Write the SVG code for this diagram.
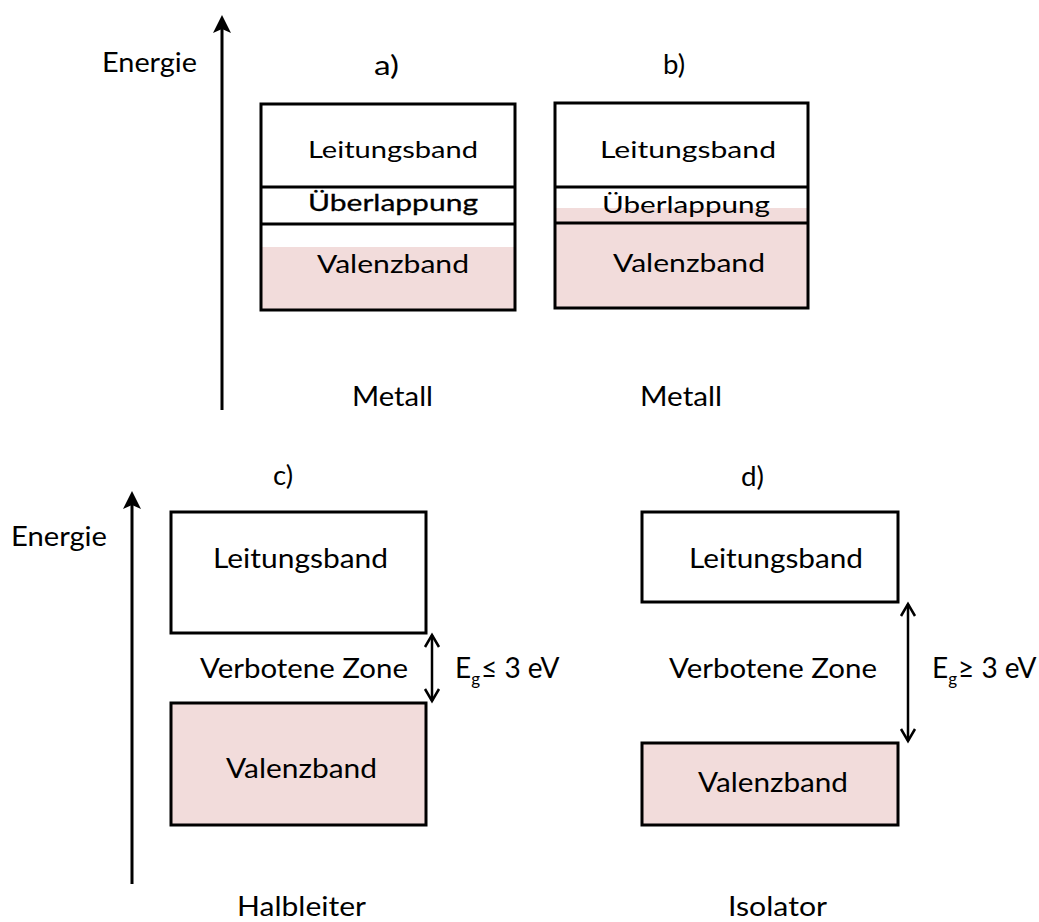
<svg xmlns="http://www.w3.org/2000/svg" width="1039" height="922" viewBox="0 0 1039 922">
<style>
text{font-family:Lato,"Liberation Sans",sans-serif;fill:#000}
.box{fill:none;stroke:#000;stroke-width:3}
.pink{fill:#F2DCDB;stroke:none}
.sep{stroke:#000;stroke-width:3}
.axis{stroke:#000;stroke-width:3;fill:none}
.gap{stroke:#000;stroke-width:2.5;fill:none}
</style>
<defs>
<marker id="axhead" markerUnits="userSpaceOnUse" viewBox="-12 -11 22 22" refX="0" refY="0" markerWidth="22" markerHeight="22" orient="auto">
<path d="M8,0 L-10,-9 L-6,0 L-10,9 Z" fill="#000"/>
</marker>
<marker id="chev" markerUnits="userSpaceOnUse" viewBox="-16 -10 20 20" refX="0" refY="0" markerWidth="20" markerHeight="20" orient="auto-start-reverse">
<path d="M-12,-7 L0,0 L-12,7" fill="none" stroke="#000" stroke-width="2.5" stroke-linejoin="miter"/>
</marker>
</defs>
<rect width="1039" height="922" fill="#fff"/>

<g id="axis-top-label">
<text x="102" y="72" font-size="27" textLength="95" lengthAdjust="spacingAndGlyphs">Energie</text>
</g>
<g id="label-a"><text x="374" y="75" font-size="27" textLength="25" lengthAdjust="spacingAndGlyphs">a)</text></g>
<g id="label-b"><text x="663" y="74" font-size="27" textLength="22" lengthAdjust="spacingAndGlyphs">b)</text></g>

<g id="band-a">
<rect class="pink" x="262" y="247" width="253" height="63"/>
<rect class="box" x="261" y="104" width="254" height="206"/>
<line class="sep" x1="261" y1="187" x2="515" y2="187"/>
<line class="sep" x1="261" y1="224" x2="515" y2="224"/>
<text x="308" y="158" font-size="24" textLength="170" lengthAdjust="spacingAndGlyphs">Leitungsband</text>
<text x="308" y="211" font-size="24" stroke="#000" stroke-width="0.3" textLength="170" lengthAdjust="spacingAndGlyphs">Überlappung</text>
<text x="317" y="273" font-size="25" textLength="152" lengthAdjust="spacingAndGlyphs">Valenzband</text>
</g>

<g id="band-b">
<rect class="pink" x="556" y="208" width="252" height="100"/>
<rect class="box" x="555" y="103" width="253" height="205"/>
<line class="sep" x1="555" y1="187" x2="808" y2="187"/>
<line class="sep" x1="555" y1="223" x2="808" y2="223"/>
<text x="600" y="158" font-size="24" textLength="176" lengthAdjust="spacingAndGlyphs">Leitungsband</text>
<text x="602" y="213" font-size="24" textLength="168" lengthAdjust="spacingAndGlyphs">Überlappung</text>
<text x="613" y="272" font-size="25" textLength="152" lengthAdjust="spacingAndGlyphs">Valenzband</text>
</g>

<g id="caption-a"><text x="352" y="406" font-size="27" textLength="81" lengthAdjust="spacingAndGlyphs">Metall</text></g>
<g id="caption-b"><text x="640" y="406" font-size="27" textLength="82" lengthAdjust="spacingAndGlyphs">Metall</text></g>

<g id="axis-bottom-label">
<text x="11" y="546" font-size="26" textLength="96" lengthAdjust="spacingAndGlyphs">Energie</text>
</g>
<g id="label-c"><text x="273" y="485" font-size="27" textLength="20" lengthAdjust="spacingAndGlyphs">c)</text></g>
<g id="label-d"><text x="741" y="486" font-size="27" textLength="23" lengthAdjust="spacingAndGlyphs">d)</text></g>

<g id="band-c">
<rect class="box" x="171" y="512" width="255" height="121"/>
<text x="213" y="568" font-size="27" textLength="175" lengthAdjust="spacingAndGlyphs">Leitungsband</text>
<text x="200" y="678" font-size="27" textLength="208" lengthAdjust="spacingAndGlyphs">Verbotene Zone</text>
<rect x="171" y="703" width="255" height="122" fill="#F2DCDB" stroke="#000" stroke-width="3"/>
<text x="226" y="778" font-size="27" textLength="151" lengthAdjust="spacingAndGlyphs">Valenzband</text>
<text x="455" y="678" font-size="28">E<tspan font-size="17" dy="7">g</tspan><tspan dy="-7" dx="1">≤ 3 eV</tspan></text>
</g>

<g id="band-d">
<rect class="box" x="642" y="512" width="256" height="90"/>
<text x="689" y="568" font-size="27" textLength="174" lengthAdjust="spacingAndGlyphs">Leitungsband</text>
<text x="669" y="678" font-size="27" textLength="208" lengthAdjust="spacingAndGlyphs">Verbotene Zone</text>
<rect x="642" y="743" width="256" height="82" fill="#F2DCDB" stroke="#000" stroke-width="3"/>
<text x="698" y="792" font-size="27" textLength="150" lengthAdjust="spacingAndGlyphs">Valenzband</text>
<text x="932" y="678" font-size="28">E<tspan font-size="17" dy="7">g</tspan><tspan dy="-7" dx="1">≥ 3 eV</tspan></text>
</g>

<g id="caption-c"><text x="237" y="916" font-size="26" textLength="129" lengthAdjust="spacingAndGlyphs">Halbleiter</text></g>
<g id="caption-d"><text x="728" y="916" font-size="26" textLength="99" lengthAdjust="spacingAndGlyphs">Isolator</text></g>

<g id="connectors">
<line class="axis" x1="222" y1="410" x2="222" y2="23" marker-end="url(#axhead)"/>
<line class="axis" x1="132" y1="884" x2="132" y2="499" marker-end="url(#axhead)"/>
<line class="gap" x1="432" y1="635" x2="432" y2="701" marker-start="url(#chev)" marker-end="url(#chev)"/>
<line class="gap" x1="908" y1="604" x2="908" y2="741" marker-start="url(#chev)" marker-end="url(#chev)"/>
</g>
</svg>
